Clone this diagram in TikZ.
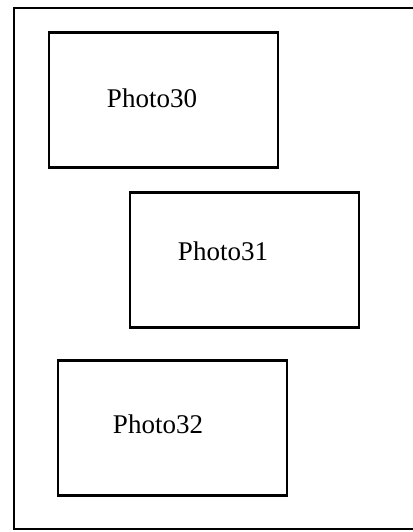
\documentclass[tikz,border=0pt]{standalone}
\usepackage{fontspec}
\setmainfont{Liberation Serif}
\usepackage{tikz}
\usetikzlibrary{positioning}

\begin{document}
\begin{tikzpicture}[
  x=1pt, y=1pt,
  photo/.style={draw, line width=2.8pt, minimum width=229pt, minimum height=135pt, inner sep=0pt},
  phlbl/.style={font=\fontsize{27}{32}\selectfont, inner sep=0pt},
  frm/.style={line width=2.4pt}
]
  \useasboundingbox (0,0) rectangle (412,532);
  % Rahmen (rechts offen)
  \coordinate (tr) at (414,524);
  \coordinate (tl) at (14,524);
  \coordinate (bl) at (14,3);
  \coordinate (br) at (414,3);
  \draw[frm] (tr) -- (tl) -- (bl) -- (br);
  % Fotos
  \node[photo] (p30) at (163.5,432) {};
  \node[photo] (p31) at (244.5,272) {};
  \node[photo] (p32) at (172.5,104) {};
  % Beschriftungen
  \node[phlbl] (t30) at (152,434) {Photo30};
  \node[phlbl] (t31) at (223,281) {Photo31};
  \node[phlbl] (t32) at (158,108) {Photo32};
\end{tikzpicture}
\end{document}
